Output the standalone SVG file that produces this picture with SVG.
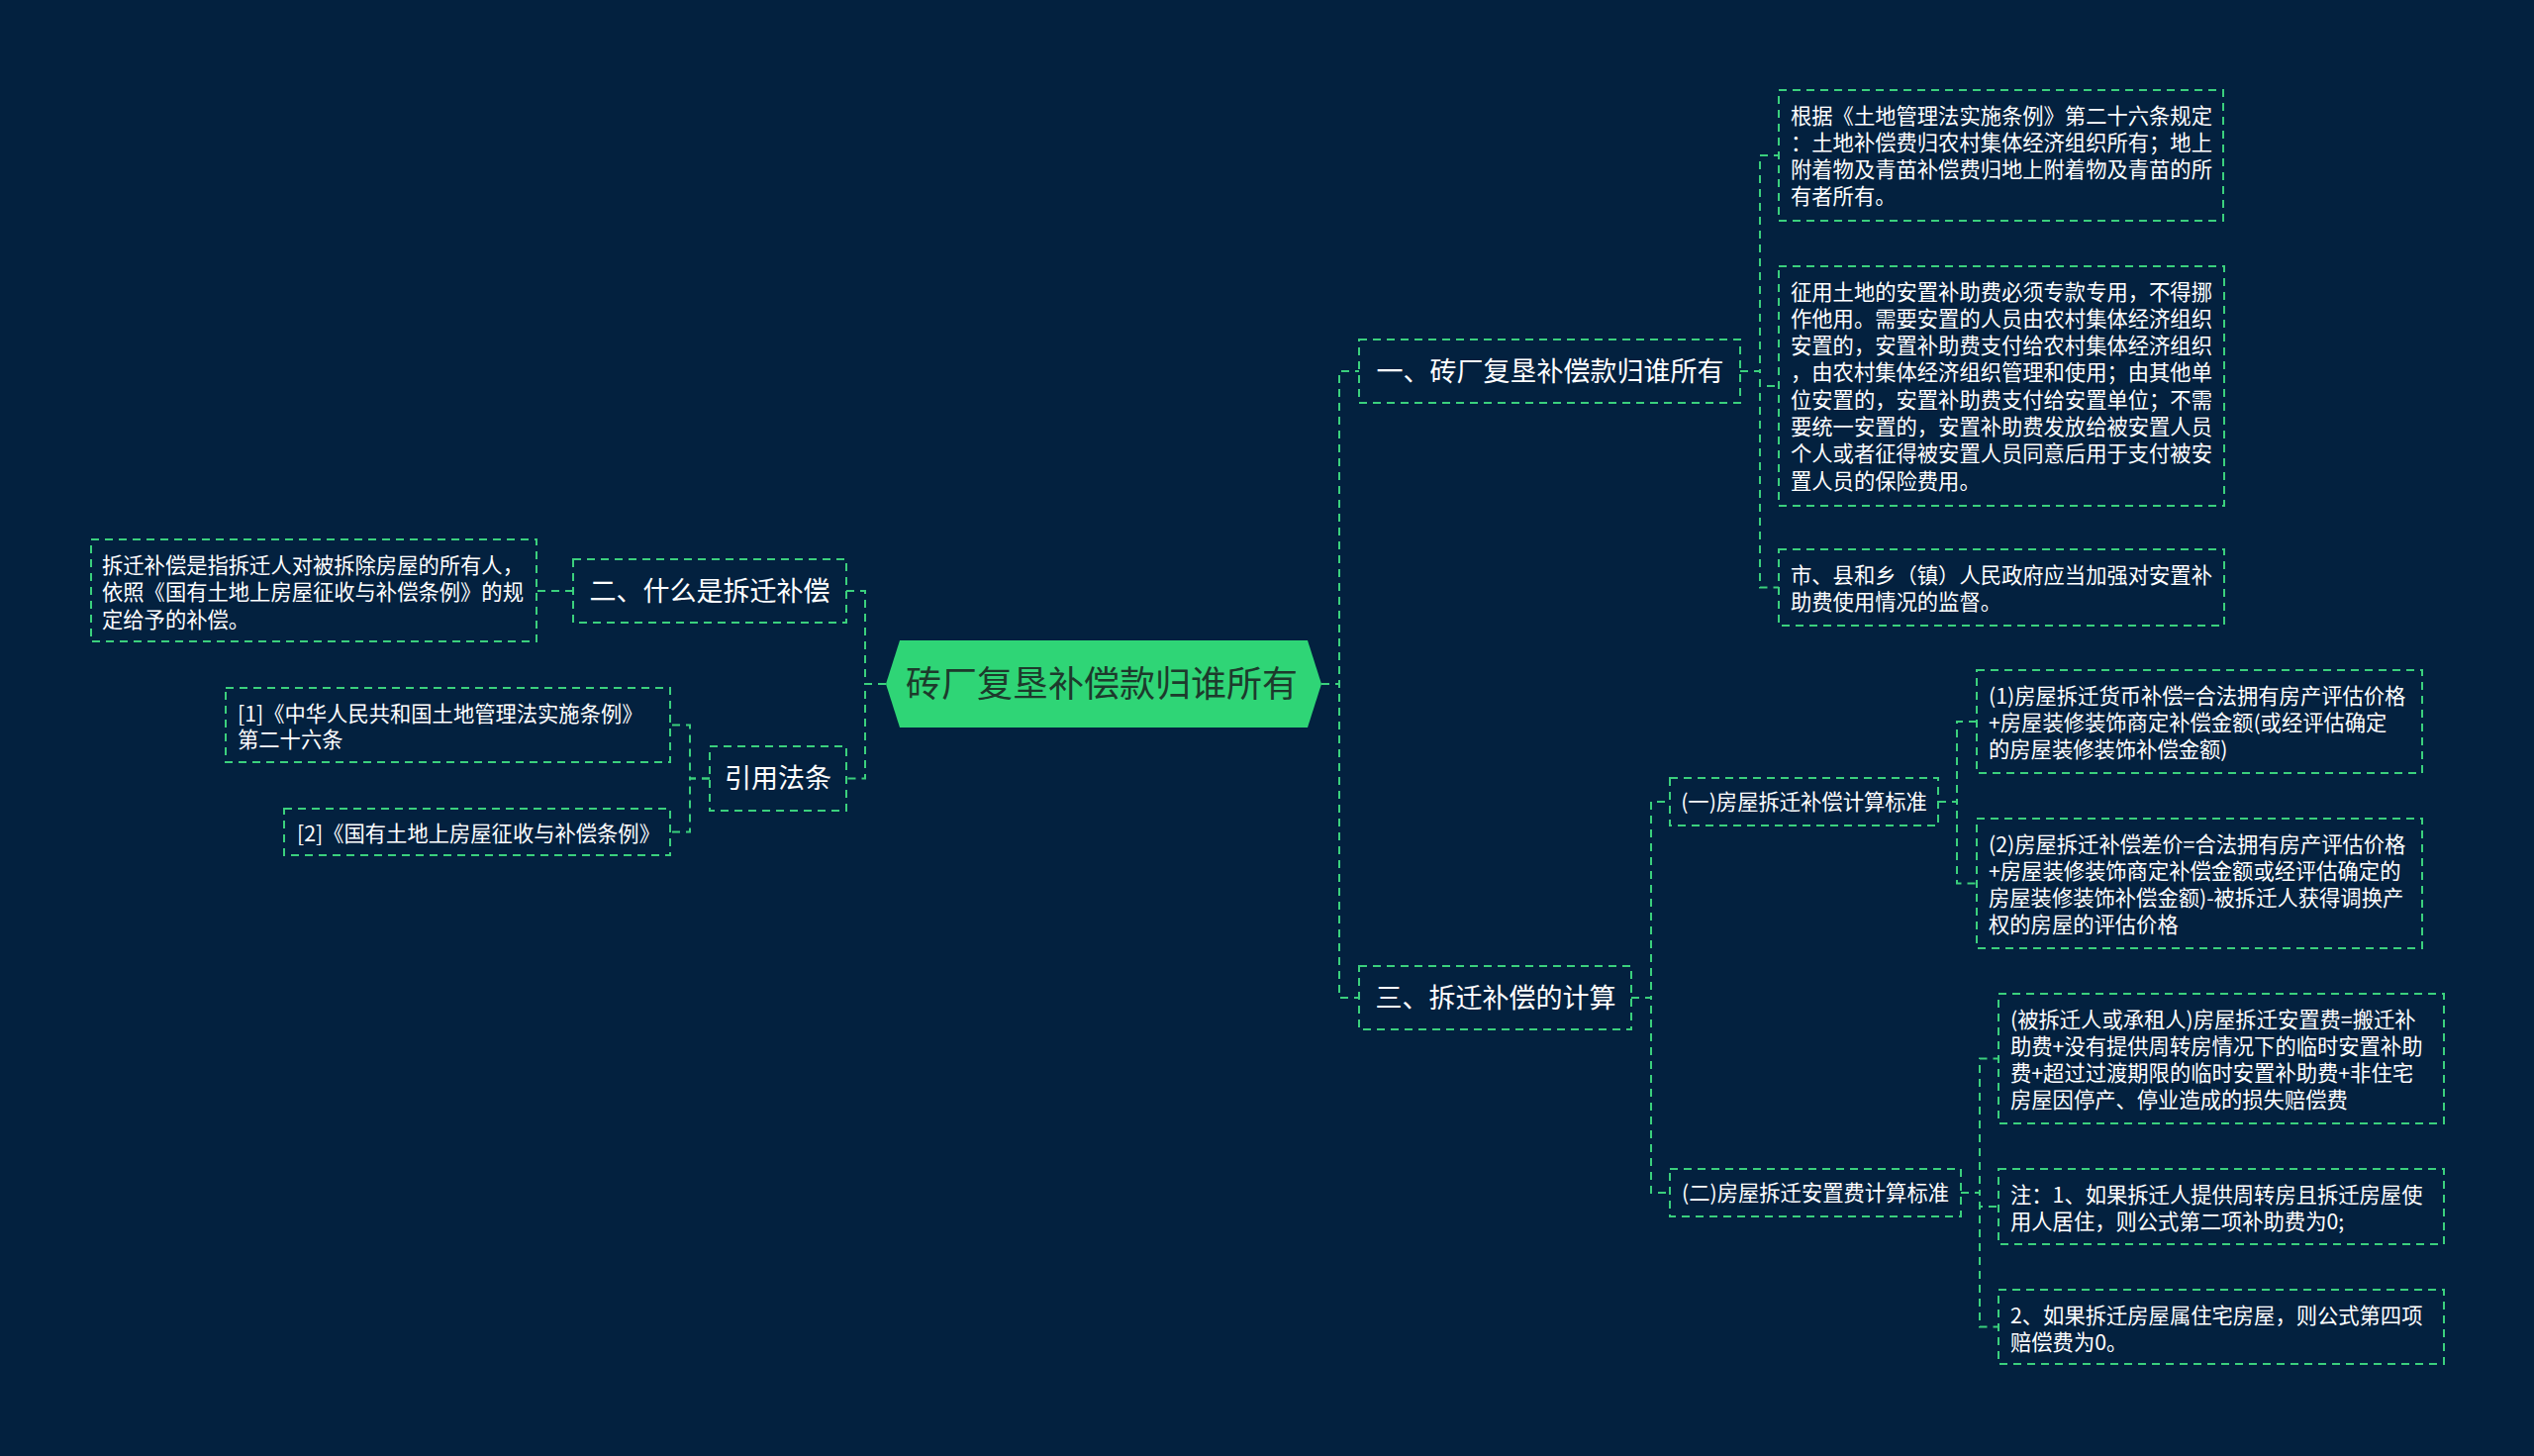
<svg xmlns="http://www.w3.org/2000/svg" width="2560" height="1471" viewBox="0 0 2560 1471">
<style>
.bg{fill:#03213f}
.box{fill:none;stroke:#3bd07d;stroke-width:2;stroke-dasharray:8 6}
.ln{fill:none;stroke:#3bd07d;stroke-width:2;stroke-dasharray:8 6}
.t27{font-family:"Noto Sans CJK SC","Noto Sans",sans-serif;font-size:27px;fill:#ffffff;text-anchor:middle}
.t21{font-family:"Noto Sans CJK SC","Noto Sans",sans-serif;font-size:21.3px;fill:#ffffff}
.tc{text-anchor:middle}
.root{font-family:"Noto Sans CJK SC","Noto Sans",sans-serif;font-size:36px;fill:#1d3a2c;text-anchor:middle}
</style>
<rect class="bg" x="0" y="0" width="2560" height="1471"/>
<g id="connectors">
<path class="ln" d="M1335 691 H1353 V375 H1373"/>
<path class="ln" d="M1335 691 H1353 V1008 H1373"/>
<path class="ln" d="M895 691 H874 V597 H855"/>
<path class="ln" d="M895 691 H874 V786.5 H855"/>
<path class="ln" d="M579 597 H542"/>
<path class="ln" d="M717 786.5 H697 V732.5 H677"/>
<path class="ln" d="M717 786.5 H697 V840.5 H677"/>
<path class="ln" d="M1758 375 H1778 V157 H1797"/>
<path class="ln" d="M1758 375 H1778 V390 H1797"/>
<path class="ln" d="M1758 375 H1778 V593.5 H1797"/>
<path class="ln" d="M1648 1008 H1668 V810 H1687"/>
<path class="ln" d="M1648 1008 H1668 V1205 H1687"/>
<path class="ln" d="M1958 810 H1977 V729 H1997"/>
<path class="ln" d="M1958 810 H1977 V892.5 H1997"/>
<path class="ln" d="M1981 1205 H2000 V1069.5 H2019"/>
<path class="ln" d="M1981 1205 H2000 V1219 H2019"/>
<path class="ln" d="M1981 1205 H2000 V1340.5 H2019"/>
</g>
<g id="root">
<polygon points="895,691 909,647 1321,647 1335,691 1321,735 909,735" fill="#2fd576"/>
<text class="root" x="1113" y="704">砖厂复垦补偿款归谁所有</text>
</g>
<g id="n1">
<rect class="box" x="1373" y="343" width="385" height="64"/>
<text class="t27" x="1566" y="385">一、砖厂复垦补偿款归谁所有</text>
</g>
<g id="n2">
<rect class="box" x="579" y="565" width="276" height="64"/>
<text class="t27" x="717" y="607">二、什么是拆迁补偿</text>
</g>
<g id="n3">
<rect class="box" x="1373" y="976" width="275" height="64"/>
<text class="t27" x="1511" y="1018">三、拆迁补偿的计算</text>
</g>
<g id="n4">
<rect class="box" x="717" y="754" width="138" height="65"/>
<text class="t27" x="786" y="796">引用法条</text>
</g>
<g id="s1">
<rect class="box" x="1687" y="786" width="271" height="48"/>
<text class="t21 tc" x="1822.5" y="818">(一)房屋拆迁补偿计算标准</text>
</g>
<g id="s2">
<rect class="box" x="1687" y="1181" width="294" height="48"/>
<text class="t21 tc" x="1834" y="1213">(二)房屋拆迁安置费计算标准</text>
</g>
<g id="leafA">
<rect class="box" x="1797" y="91" width="449" height="132"/>
<text class="t21" x="1809" y="124.5"><tspan x="1809">根据《土地管理法实施条例》第二十六条规定</tspan><tspan x="1809" dy="27.3">：土地补偿费归农村集体经济组织所有；地上</tspan><tspan x="1809" dy="27.3">附着物及青苗补偿费归地上附着物及青苗的所</tspan><tspan x="1809" dy="27.3">有者所有。</tspan></text>
</g>
<g id="leafB">
<rect class="box" x="1797" y="269" width="450" height="242"/>
<text class="t21" x="1809" y="302.5"><tspan x="1809">征用土地的安置补助费必须专款专用，不得挪</tspan><tspan x="1809" dy="27.3">作他用。需要安置的人员由农村集体经济组织</tspan><tspan x="1809" dy="27.3">安置的，安置补助费支付给农村集体经济组织</tspan><tspan x="1809" dy="27.3">，由农村集体经济组织管理和使用；由其他单</tspan><tspan x="1809" dy="27.3">位安置的，安置补助费支付给安置单位；不需</tspan><tspan x="1809" dy="27.3">要统一安置的，安置补助费发放给被安置人员</tspan><tspan x="1809" dy="27.3">个人或者征得被安置人员同意后用于支付被安</tspan><tspan x="1809" dy="27.3">置人员的保险费用。</tspan></text>
</g>
<g id="leafC">
<rect class="box" x="1797" y="555" width="450" height="77"/>
<text class="t21" x="1809" y="588.5"><tspan x="1809">市、县和乡（镇）人民政府应当加强对安置补</tspan><tspan x="1809" dy="27.3">助费使用情况的监督。</tspan></text>
</g>
<g id="leafD">
<rect class="box" x="1997" y="677" width="450" height="104"/>
<text class="t21" x="2009" y="710.5"><tspan x="2009">(1)房屋拆迁货币补偿=合法拥有房产评估价格</tspan><tspan x="2009" dy="27.3">+房屋装修装饰商定补偿金额(或经评估确定</tspan><tspan x="2009" dy="27.3">的房屋装修装饰补偿金额)</tspan></text>
</g>
<g id="leafE">
<rect class="box" x="1997" y="827" width="450" height="131"/>
<text class="t21" x="2009" y="860.5"><tspan x="2009">(2)房屋拆迁补偿差价=合法拥有房产评估价格</tspan><tspan x="2009" dy="27.3">+房屋装修装饰商定补偿金额或经评估确定的</tspan><tspan x="2009" dy="27.3">房屋装修装饰补偿金额)-被拆迁人获得调换产</tspan><tspan x="2009" dy="27.3">权的房屋的评估价格</tspan></text>
</g>
<g id="leafF">
<rect class="box" x="2019" y="1004" width="450" height="131"/>
<text class="t21" x="2031" y="1037.5"><tspan x="2031">(被拆迁人或承租人)房屋拆迁安置费=搬迁补</tspan><tspan x="2031" dy="27.3">助费+没有提供周转房情况下的临时安置补助</tspan><tspan x="2031" dy="27.3">费+超过过渡期限的临时安置补助费+非住宅</tspan><tspan x="2031" dy="27.3">房屋因停产、停业造成的损失赔偿费</tspan></text>
</g>
<g id="leafG">
<rect class="box" x="2019" y="1181" width="450" height="76"/>
<text class="t21" x="2031" y="1214.5"><tspan x="2031">注：1、如果拆迁人提供周转房且拆迁房屋使</tspan><tspan x="2031" dy="27.3">用人居住，则公式第二项补助费为0;</tspan></text>
</g>
<g id="leafH">
<rect class="box" x="2019" y="1303" width="450" height="75"/>
<text class="t21" x="2031" y="1336.5"><tspan x="2031">2、如果拆迁房屋属住宅房屋，则公式第四项</tspan><tspan x="2031" dy="27.3">赔偿费为0。</tspan></text>
</g>
<g id="leafL1">
<rect class="box" x="92" y="545" width="450" height="103"/>
<text class="t21" x="103" y="579"><tspan x="103">拆迁补偿是指拆迁人对被拆除房屋的所有人，</tspan><tspan x="103" dy="27.3">依照《国有土地上房屋征收与补偿条例》的规</tspan><tspan x="103" dy="27.3">定给予的补偿。</tspan></text>
</g>
<g id="leafR1">
<rect class="box" x="228" y="695" width="449" height="75"/>
<text class="t21" x="240" y="728.5"><tspan x="240">[1]《中华人民共和国土地管理法实施条例》</tspan><tspan x="240" dy="26.5">第二十六条</tspan></text>
</g>
<g id="leafR2">
<rect class="box" x="287" y="817" width="390" height="47"/>
<text class="t21" x="300" y="849.5">[2]《国有土地上房屋征收与补偿条例》</text>
</g>
</svg>
